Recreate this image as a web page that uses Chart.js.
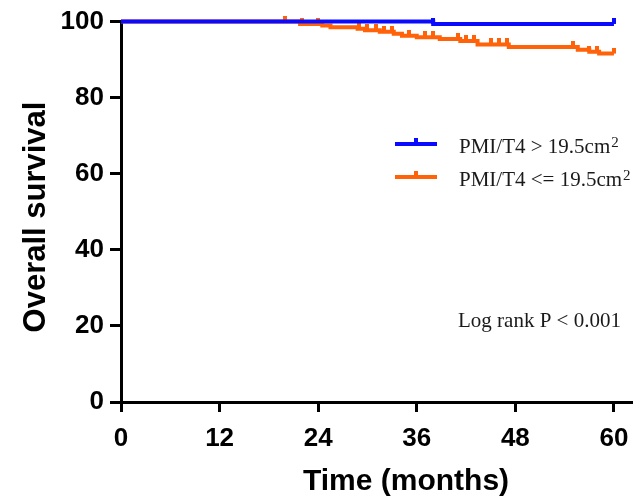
<!DOCTYPE html>
<html>
<head>
<meta charset="utf-8">
<script src="https://cdn.jsdelivr.net/npm/chart.js@4/dist/chart.umd.min.js"></script>
<style>
  html, body { margin: 0; padding: 0; background: #fff; }
  #wrap { width: 641px; height: 503px; }
</style>
</head>
<body>
<div id="wrap"><canvas id="kmChart"></canvas></div>
<script>
// Kaplan-Meier data (months, % surviving)
const groupLabels = ['PMI/T4 > 19.5cm', 'PMI/T4 <= 19.5cm'];
const xTicks = [0, 12, 24, 36, 48, 60];
const yTicks = [0, 20, 40, 60, 80, 100];

const highEventTimes = [0, 38];
const highSurvival = [100, 99.4];
const highCensored = [38, 60];

const lowEventTimes = [0, 21.8, 24.5, 25.5, 28.8, 29.7, 31.5, 33.2, 34.2, 36.0, 38.8, 41.3, 43.4, 47.2, 55.6, 57.0, 58.2];
const lowSurvival = [100, 99.4, 99.0, 98.5, 98.1, 97.7, 97.3, 96.8, 96.3, 95.9, 95.4, 94.9, 94.0, 93.3, 92.6, 92.1, 91.6];
const lowCensored = [20, 22, 24, 29, 30, 31, 32, 33, 35, 37, 38, 41, 42, 43, 45, 46, 47, 55, 57, 58, 60];

const blue = '#0a0aff';
const orange = '#ff6208';

function survivalAt(times, surv, t) {
    let s = surv[0];
    for (let i = 0; i < times.length; i++) {
        if (times[i] <= t) s = surv[i];
    }
    return s;
}

function stepPoints(times, surv, censored) {
    const pts = times.map((t, i) => ({ x: t, y: surv[i] }));
    const end = Math.max(...censored);
    pts.push({ x: end, y: surv[surv.length - 1] });
    return pts;
}

function censorPoints(times, surv, censored) {
    return censored.map(t => ({ x: t, y: survivalAt(times, surv, t) }));
}

// small upward tick used for censored observations
function tickMark(color) {
    const c = document.createElement('canvas');
    c.width = 4;
    c.height = 12;
    const g = c.getContext('2d');
    g.fillStyle = color;
    g.fillRect(0, 0, 4, 6);
    return c;
}

const kmLegend = {
    id: 'kmLegend',
    afterDraw(chart) {
        const c = chart.ctx;
        const items = [
            { label: groupLabels[0], color: blue, y: 144 },
            { label: groupLabels[1], color: orange, y: 177 }
        ];
        c.save();
        items.forEach(it => {
            c.strokeStyle = it.color;
            c.lineWidth = 4;
            c.beginPath();
            c.moveTo(395, it.y);
            c.lineTo(437, it.y);
            c.stroke();
            c.drawImage(tickMark(it.color), 414, it.y - 6);
            c.fillStyle = '#1a1a1a';
            c.textBaseline = 'alphabetic';
            c.font = '21px "Liberation Serif"';
            c.fillText(it.label, 459, it.y + 9);
            const w = c.measureText(it.label).width;
            c.font = '15px "Liberation Serif"';
            c.fillText('2', 459 + w + 1, it.y + 3);
        });
        c.fillStyle = '#1a1a1a';
        c.font = '21px "Liberation Serif"';
        c.fillText('Log rank P < 0.001', 458, 327);

        // axis titles, placed as in the original (not centred on the axes)
        c.fillStyle = '#000';
        c.font = 'bold 30px "Liberation Sans", Arial, sans-serif';
        c.textAlign = 'center';
        c.textBaseline = 'middle';
        c.fillText('Time (months)', 406, 482);
        c.translate(36, 217);
        c.rotate(-Math.PI / 2);
        c.font = 'bold 31px "Liberation Sans", Arial, sans-serif';
        c.fillText('Overall survival', 0, 0);
        c.restore();
    }
};

Chart.defaults.font.family = '"Liberation Sans", Arial, sans-serif';
Chart.defaults.color = '#000';

const ctx = document.getElementById('kmChart').getContext('2d');
const kmChart = new Chart(ctx, {
    type: 'line',
    data: {
        datasets: [
            {
                label: groupLabels[0],
                data: stepPoints(highEventTimes, highSurvival, highCensored),
                borderColor: blue,
                borderWidth: 4,
                stepped: true,
                pointRadius: 0,
                fill: false,
                clip: false,
                borderJoinStyle: 'miter'
            },
            {
                type: 'scatter',
                label: 'high censored',
                data: censorPoints(highEventTimes, highSurvival, highCensored),
                pointStyle: tickMark(blue),
                pointRadius: 4,
                clip: false
            },
            {
                label: groupLabels[1],
                data: stepPoints(lowEventTimes, lowSurvival, lowCensored),
                borderColor: orange,
                borderWidth: 4,
                stepped: true,
                pointRadius: 0,
                fill: false,
                clip: false,
                borderJoinStyle: 'miter'
            },
            {
                type: 'scatter',
                label: 'low censored',
                data: censorPoints(lowEventTimes, lowSurvival, lowCensored),
                pointStyle: tickMark(orange),
                pointRadius: 4,
                clip: false
            }
        ]
    },
    options: {
        responsive: true,
        maintainAspectRatio: false,
        animation: false,
        layout: {
            padding: { top: 20, right: 9, left: 0, bottom: 0 }
        },
        plugins: {
            legend: { display: false },
            tooltip: { enabled: false }
        },
        scales: {
            x: {
                type: 'linear',
                min: 0,
                max: 62.2,
                afterBuildTicks: s => { s.ticks = xTicks.map(v => ({ value: v })); },
                afterFit: s => { s.height = 101; },
                grid: {
                    drawOnChartArea: false,
                    drawTicks: true,
                    tickLength: 10,
                    tickWidth: 3,
                    tickColor: '#000'
                },
                border: { display: true, color: '#000', width: 3 },
                ticks: {
                    color: '#000',
                    font: { size: 26, weight: 'bold' },
                    padding: 11,
                    maxRotation: 0
                },
                title: { display: false }
            },
            y: {
                min: 0,
                max: 100,
                afterBuildTicks: s => { s.ticks = yTicks.map(v => ({ value: v })); },
                afterFit: s => { s.width = 121; },
                grid: {
                    drawOnChartArea: false,
                    drawTicks: true,
                    tickLength: 11,
                    tickWidth: 3,
                    tickColor: '#000'
                },
                border: { display: true, color: '#000', width: 3 },
                ticks: {
                    color: '#000',
                    font: { size: 26, weight: 'bold' },
                    padding: 6
                },
                title: { display: false }
            }
        }
    },
    plugins: [kmLegend]
});
</script>
</body>
</html>
